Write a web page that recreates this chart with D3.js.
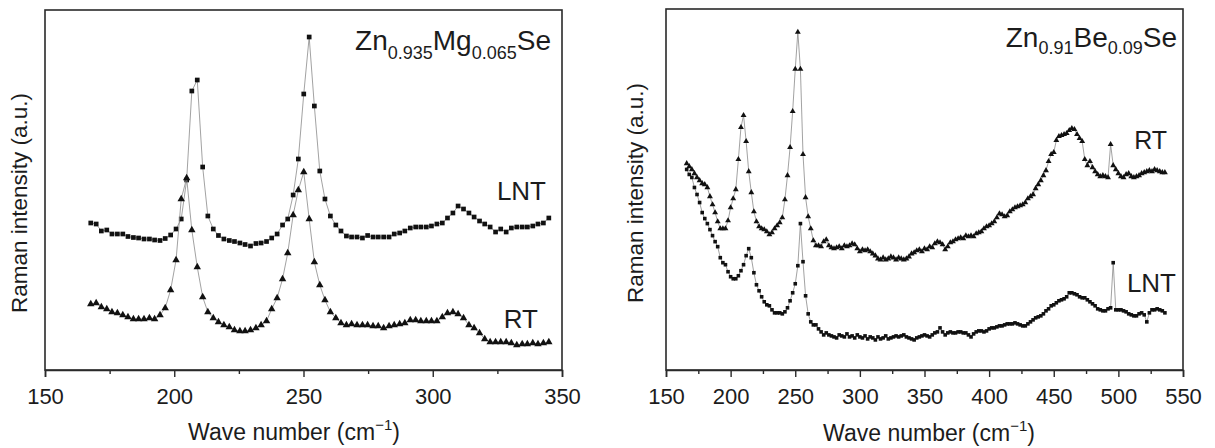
<!DOCTYPE html>
<html><head><meta charset="utf-8">
<script src="https://cdn.jsdelivr.net/npm/d3@7"></script>
<style>
html,body{margin:0;padding:0;background:#fff;}
svg{display:block;font-family:"Liberation Sans",Arial,Helvetica,sans-serif;}
</style></head>
<body><svg id="c" width="1215" height="448"></svg>
<script>
// ---------- Left panel: Zn0.935Mg0.065Se ----------
const leftWavenumber = [167.7,169.8,171.8,173.9,175.9,178.0,180.1,182.1,184.2,186.2,188.3,190.4,192.4,194.5,196.5,198.6,200.7,202.7,204.8,206.8,208.9,211.0,213.0,215.1,217.1,219.2,221.3,223.3,225.4,227.4,229.5,231.6,233.6,235.7,237.7,239.8,241.9,243.9,246.0,248.0,250.1,252.2,254.2,256.3,258.3,260.4,262.5,264.5,266.6,268.6,270.7,272.8,274.8,276.9,278.9,281.0,283.1,285.1,287.2,289.2,291.3,293.4,295.4,297.5,299.5,301.6,303.7,305.7,307.8,309.8,311.9,314.0,316.0,318.1,320.1,322.2,324.3,326.3,328.4,330.4,332.5,334.6,336.6,338.7,340.7,342.8,344.9];
const leftLNT = [147,146,139,140,136,136,136,133.5,132.5,132,131,131,130,129.5,131.5,135,141,151,190,279,290,203,154,141,134.5,131,129.5,128.5,127,125.5,124,126.5,127,128.5,132,136,145,151,175,211,276,333,264,199,171,154,145,139,134,133,133,132,134.5,133,133,133,133,136,137,139,142,143,143,143,144,146,147,152,157,164,161,157,153,149,146,143,138,141,138,142,143,143,143,144,146,147,152];
const leftRT = [66,67,63,61,58,57,55,53,51,51,51,52,51,55,62,80,110,171,192,140,103,73,58,52,48,45,43,40,39,39,40,42,45,49,61,72,91,117,155,180,198,151,108,85,70,58,52,47,45,46,45,45,45,44,44,42,44,45,46,47,50,50,49,49,49,49,53,57,58,56,52,45,42,37,31,28,28,28,28,27,25,26,26,27,26,27,28];

// ---------- Right panel: Zn0.91Be0.09Se ----------
const rightWavenumber = [166,168,170,172,174,176,178,180,182,184,186,188,190,192,194,196,198,200,202,204,206,208,210,212,214,216,218,220,222,224,226,228,230,232,234,236,238,240,242,244,246,248,250,252,254,256,258,260,262,264,266,268,270,272,274,276,278,280,282,284,286,288,290,292,294,296,298,300,302,304,306,308,310,312,314,316,318,320,322,324,326,328,330,332,334,336,338,340,342,344,346,348,350,352,354,356,358,360,362,364,366,368,370,372,374,376,378,380,382,384,386,388,390,392,394,396,398,400,402,404,406,408,410,412,414,416,418,420,422,424,426,428,430,432,434,436,438,440,442,444,446,448,450,452,454,456,458,460,462,464,466,468,470,472,474,476,478,480,482,484,486,488,490,492,494,496,498,500,502,504,506,508,510,512,514,516,518,520,522,524,526,528,530,532,534,536];
const rightRT = [206,203,200,196,192,189,186,185,182,173,165,157,148,141,141,141,149,162,171,180,210,242,254,228,198,177,158,148,143,141,140,138,135,137,141,144,147,152,170,194,222,258,300,337,300,215,172,153,141,129,124,124,123,128,130,124,122,121,122,123,121,124,123,124,126,125,121,118,120,119,120,118,116,114,111,110,112,110,111,113,112,110,112,111,110,111,113,116,117,119,120,118,121,120,123,122,126,128,127,125,120,123,127,128,130,131,132,131,134,133,134,133,136,137,138,141,143,144,146,148,152,156,155,153,154,158,160,162,163,164,165,167,171,173,175,181,185,189,194,199,208,215,217,229,233,234,235,236,239,241,240,235,231,228,210,204,208,202,198,195,193,194,193,192,225,204,200,196,193,192,195,196,193,192,193,194,196,197,198,199,198,200,199,198,197,197];
const rightLNT = [200,195,192,182,175,167,157,151,146,140,134,128,123,112,107,105,98,93,91,91,94,99,105,114,121,112,97,85,79,73,68,65,64,60,57,57,57,56,58,62,69,77,86,104,146,108,74,56,48,45,45,41,38,35,37,35,34,33,32,35,34,33,36,33,34,32,35,33,32,34,31,33,32,30,33,31,32,34,31,32,33,34,33,34,35,33,32,31,30,32,33,34,35,34,33,35,37,38,42,38,35,37,38,37,37,38,38,37,37,35,33,36,38,39,39,38,39,41,42,42,43,44,44,45,46,46,46,47,46,45,44,44,46,48,50,52,53,54,56,59,61,64,65,67,69,70,71,73,77,77,76,75,73,72,72,70,68,66,64,61,60,59,59,61,62,107,60,60,60,59,58,56,55,54,54,56,57,55,48,57,60,60,61,60,59,57];

// ---------- ticks / labels ----------
const leftMajorTicks = [150,200,250,300,350];
const leftMinorTicks = [175,225,275,325];
const rightMajorTicks = [150,200,250,300,350,400,450,500,550];
const rightMinorTicks = [175,225,275,325,375,425,475,525];
const xTitle = "Wave number (cm";
const yTitle = "Raman intensity (a.u.)";

const svg = d3.select("#c");
const INK = "#1c1c1c";

function panel(cfg){
  const g = svg.append("g");
  const x = d3.scaleLinear().domain(cfg.xDomain).range([cfg.left, cfg.right]);
  const y = d3.scaleLinear().domain([0,360]).range([370, cfg.top]);
  g.append("rect").attr("x",cfg.left).attr("y",cfg.top)
    .attr("width",cfg.right-cfg.left).attr("height",370-cfg.top)
    .attr("fill","none").attr("stroke","#2a2a2a").attr("stroke-width",1.6);
  const minor = g.append("g").attr("transform","translate(0,370)")
    .call(d3.axisBottom(x).tickValues(cfg.minor).tickSize(4).tickFormat(""));
  minor.select(".domain").remove();
  minor.selectAll("line").attr("stroke","#2a2a2a").attr("stroke-width",1.4);
  const major = g.append("g").attr("transform","translate(0,370)")
    .call(d3.axisBottom(x).tickValues(cfg.major).tickSize(7).tickPadding(11).tickFormat(d3.format("d")));
  major.select(".domain").attr("stroke","#2a2a2a").attr("stroke-width",1.6);
  major.selectAll("line").attr("stroke","#2a2a2a").attr("stroke-width",1.4);
  major.selectAll("text").attr("font-size",22).attr("fill",INK)
    .attr("font-family","Liberation Sans, Arial, sans-serif");
  const xt = g.append("text").attr("x",cfg.xTitleX).attr("y",cfg.xTitleY)
    .attr("text-anchor","middle").attr("font-size",23).attr("fill",INK);
  xt.append("tspan").text(xTitle);
  xt.append("tspan").attr("font-size",15).attr("dy",-10).text("\u22121");
  xt.append("tspan").attr("dy",10).text(")");
  g.append("text").attr("transform",`translate(${cfg.yTitleX},${cfg.yTitleY}) rotate(-90)`)
    .attr("text-anchor","middle").attr("font-size",22.5).attr("fill",INK).text(yTitle);
  const line = d3.line().x(d=>x(d[0])).y(d=>y(d[1]));
  cfg.series.forEach(s=>{
    const pts = s.wn.map((w,i)=>[w,s.v[i]]);
    g.append("path").datum(pts).attr("d",line).attr("fill","none")
      .attr("stroke","#8a8a8a").attr("stroke-width",0.8);
    const sym = d3.symbol().type(s.shape==="sq"?d3.symbolSquare:d3.symbolTriangle).size(s.size);
    g.append("g").selectAll("path").data(pts).join("path")
      .attr("transform",d=>`translate(${x(d[0])},${y(d[1])})`)
      .attr("d",sym).attr("fill","#111");
  });
  cfg.labels.forEach(l=>{
    g.append("text").attr("x",l.x).attr("y",l.y).attr("text-anchor","end")
      .attr("font-size",l.fs).attr("fill",INK).text(l.t);
  });
  const t = g.append("text").attr("x",cfg.title.x).attr("y",cfg.title.y)
    .attr("text-anchor","end").attr("font-size",28).attr("fill",INK);
  cfg.title.parts.forEach((p,i)=>{
    const ts = t.append("tspan").text(p.t);
    if(p.sub){ ts.attr("font-size",18).attr("dy",cfg.title.subShift); }
    else if(i>0){ ts.attr("dy",-cfg.title.subShift); }
  });
}

panel({
  xDomain:[150,350], left:45, right:562, top:10,
  major:leftMajorTicks, minor:leftMinorTicks,
  xTitleX:294, xTitleY:440, yTitleX:27, yTitleY:203,
  series:[
    {wn:leftWavenumber, v:leftLNT, shape:"sq", size:22},
    {wn:leftWavenumber, v:leftRT, shape:"tri", size:24}
  ],
  labels:[{t:"LNT",x:546,y:200,fs:26},{t:"RT",x:538,y:328,fs:26}],
  title:{x:551,y:50,subShift:9,parts:[{t:"Zn"},{t:"0.935",sub:true},{t:"Mg"},{t:"0.065",sub:true},{t:"Se"}]}
});

panel({
  xDomain:[150,550], left:666, right:1183, top:9,
  major:rightMajorTicks, minor:rightMinorTicks,
  xTitleX:929, xTitleY:441, yTitleX:643, yTitleY:193,
  series:[
    {wn:rightWavenumber, v:rightRT, shape:"tri", size:15},
    {wn:rightWavenumber, v:rightLNT, shape:"sq", size:13}
  ],
  labels:[{t:"RT",x:1167,y:149,fs:25},{t:"LNT",x:1176,y:292,fs:26}],
  title:{x:1177,y:47,subShift:7,parts:[{t:"Zn"},{t:"0.91",sub:true},{t:"Be"},{t:"0.09",sub:true},{t:"Se"}]}
});
</script></body></html>
